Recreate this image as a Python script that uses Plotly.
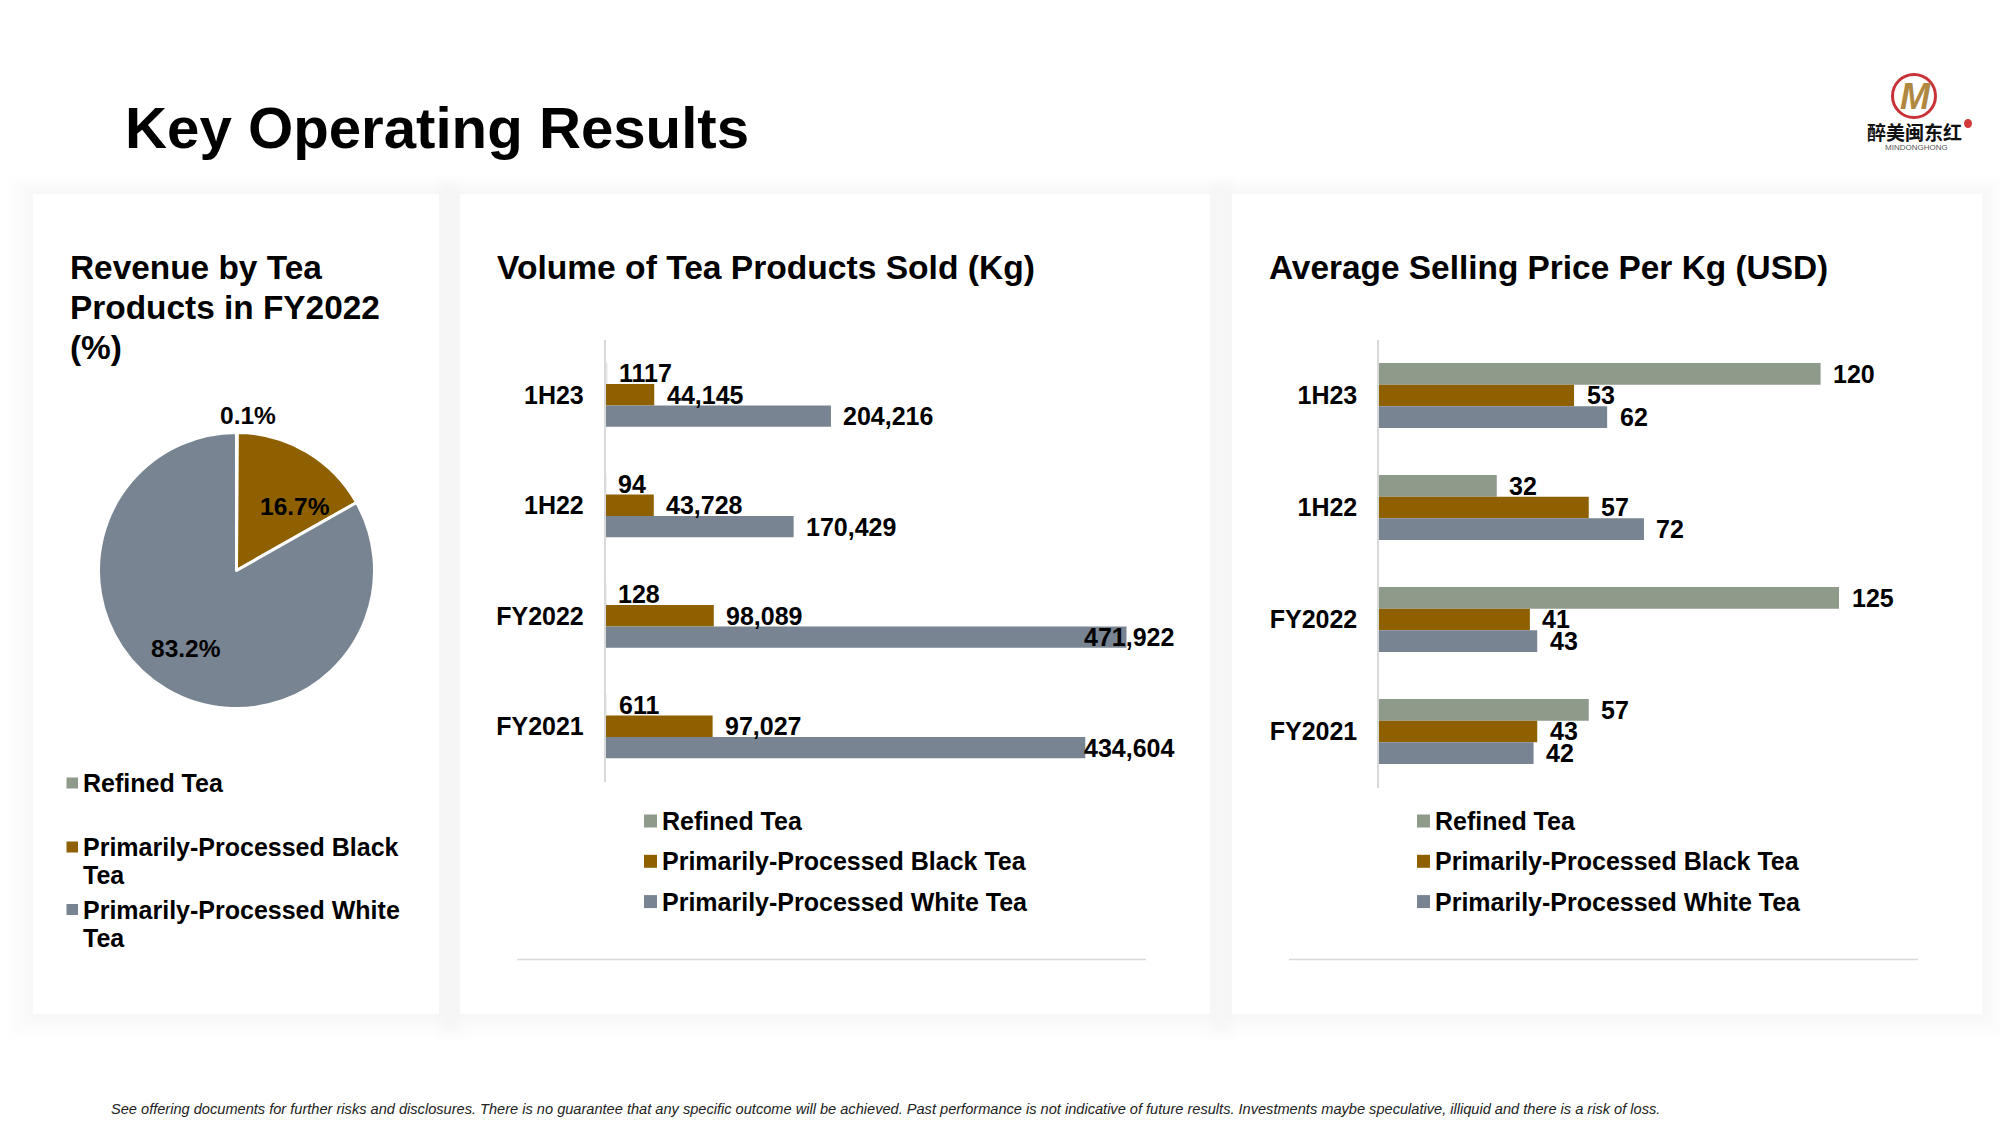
import plotly.graph_objects as go

W, H = 2000, 1125
FONT = "Liberation Sans"

# ---------- data ----------
series_names = ["Refined Tea", "Primarily-Processed Black Tea", "Primarily-Processed White Tea"]
series_colors = ["#8E9A8A", "#8F6000", "#788491"]
periods = ["1H23", "1H22", "FY2022", "FY2021"]

vol_refined = [1117, 94, 128, 611]
vol_black = [44145, 43728, 98089, 97027]
vol_white = [204216, 170429, 471922, 434604]
vol_labels = [
    ["1117", "94", "128", "611"],
    ["44,145", "43,728", "98,089", "97,027"],
    ["204,216", "170,429", "471,922", "434,604"],
]

asp_refined = [120, 32, 125, 57]
asp_black = [53, 57, 41, 43]
asp_white = [62, 72, 43, 42]

pie_values = [0.1, 16.7, 83.2]
pie_labels = ["0.1%", "16.7%", "83.2%"]

pie_legend_lines = [["Refined Tea"], ["Primarily-Processed Black", "Tea"], ["Primarily-Processed White", "Tea"]]

title_text = "Key Operating Results"
panel1_title = ["Revenue by Tea", "Products in FY2022", "(%)"]
panel2_title = "Volume of Tea Products Sold (Kg)"
panel3_title = "Average Selling Price Per Kg (USD)"
footnote = ("See offering documents for further risks and disclosures. There is no guarantee that any specific "
            "outcome will be achieved. Past performance is not indicative of future results. Investments maybe "
            "speculative, illiquid and there is a risk of loss.")

# ---------- helpers ----------
def fx(x): return x / W
def fy(y): return 1 - y / H

annotations, shapes = [], []

def text(x, y, s, size, bold=True, anchor="left", color="#000000", italic=False, vanchor="middle", family=FONT):
    t = s
    if bold: t = f"<b>{t}</b>"
    if italic: t = f"<i>{t}</i>"
    annotations.append(dict(xref="paper", yref="paper", x=fx(x), y=fy(y), text=t, showarrow=False,
                            xanchor=anchor, yanchor=vanchor, align=anchor,
                            font=dict(family=family, size=size, color=color), borderpad=0, borderwidth=0))

def rect(x0, y0, x1, y1, fill, opacity=1.0, layer="below", line=None, kind="rect"):
    shapes.append(dict(type=kind, xref="paper", yref="paper", x0=fx(x0), x1=fx(x1), y0=fy(y0), y1=fy(y1),
                       fillcolor=fill, opacity=opacity, layer=layer, line=line or dict(width=0)))

# panels with soft shadows
panels = [(33, 194, 439, 1014), (460, 194, 1210, 1014), (1232, 194, 1982, 1014)]
for (x0, y0, x1, y1) in panels:
    for d in (26, 22, 18, 14, 10, 6, 3):
        rect(x0 - d, y0 - d * 0.7, x1 + d, y1 + d, "#000000", 0.005)
for (x0, y0, x1, y1) in panels:
    rect(x0, y0, x1, y1, "#FFFFFF")

# titles
text(125, 128, title_text, 58.2)
for i, line in enumerate(panel1_title):
    text(70, 267 + i * 40, line, 33.4)
text(497, 267, panel2_title, 33.6)
text(1269, 267, panel3_title, 33.4)
text(111, 1109, footnote, 14.6, bold=False, italic=True, color="#222222")

# separators
for x0, x1 in ((517, 1146), (1289, 1918)):
    shapes.append(dict(type="line", xref="paper", yref="paper", x0=fx(x0), x1=fx(x1), y0=fy(959.5), y1=fy(959.5),
                       line=dict(color="#D9D9D9", width=1.5), layer="below"))

# legends
for lx, tx in ((644, 662), (1417, 1435)):
    for i, name in enumerate(series_names):
        cy = 821 + i * 40.3
        rect(lx, cy - 6.5, lx + 13, cy + 6.5, series_colors[i])
        text(tx, cy, name, 25)
pie_leg_y = [[783], [847, 875], [909.5, 937.5]]
for i, lines in enumerate(pie_legend_lines):
    cy0 = pie_leg_y[i][0]
    rect(66.5, cy0 - 5.5, 78, cy0 + 5.5, series_colors[i])
    for line, cy in zip(lines, pie_leg_y[i]):
        text(83, cy, line, 25)

# pie labels
for (x, y), lab in zip(((248, 415.5), (295, 506), (186, 648)), pie_labels):
    text(x, y, lab, 24.5, anchor="center")

# logo
cx, cy, r = 1914, 96, 21.5
rect(cx - r, cy - r, cx + r, cy + r, "rgba(0,0,0,0)", line=dict(color="#C8333A", width=3), kind="circle", layer="above")
text(cx + 1, cy, "M", 36, anchor="center", color="#B0883F", italic=True)
text(1914, 131, "醉美闽东红", 19, anchor="center", color="#111111", family="Noto Sans CJK SC")
text(1916, 148, "MINDONGHONG", 8, anchor="center", bold=False, color="#555555")
rect(1964, 119, 1972, 128, "#D03A3A", kind="circle", layer="above")

# ---------- figure ----------
fig = go.Figure()

PIE_R = 138
PIE_CX, PIE_CY = 236.5, 570.5
fig.add_trace(go.Pie(values=pie_values, labels=series_names, sort=False, direction="clockwise", rotation=0,
                     marker=dict(colors=series_colors, line=dict(color="#FFFFFF", width=3)),
                     textinfo="none", showlegend=False, hoverinfo="label+percent",
                     domain=dict(x=[fx(PIE_CX - PIE_R), fx(PIE_CX + PIE_R)], y=[fy(PIE_CY + PIE_R), fy(PIE_CY - PIE_R)])))

vol_series = [vol_refined, vol_black, vol_white]
asp_series = [asp_refined, asp_black, asp_white]
for i, name in enumerate(series_names):
    fig.add_trace(go.Bar(y=periods, x=vol_series[i], name=name, orientation="h", xaxis="x", yaxis="y",
                         marker=dict(color=series_colors[i], line=dict(width=0), opacity=0.25 if i == 0 else 1),
                         showlegend=False))
    fig.add_trace(go.Bar(y=periods, x=asp_series[i], name=name, orientation="h", xaxis="x2", yaxis="y2",
                         marker=dict(color=series_colors[i], line=dict(width=0)), showlegend=False))

# value labels attached to the data coordinates
VOL_RIGHT = 1176
LABEL_GAP = 10.5
for i in range(3):
    dy = (i - 1) * 21.3
    for j, p in enumerate(periods):
        v = vol_series[i][j]
        if v > 400000:
            annotations.append(dict(xref="paper", yref="y", x=fx(VOL_RIGHT), y=p, yshift=-dy, text=f"<b>{vol_labels[i][j]}</b>",
                                    showarrow=False, xanchor="right", yanchor="middle",
                                    font=dict(family=FONT, size=25, color="#000000")))
        else:
            annotations.append(dict(xref="x", yref="y", x=v, y=p, xshift=LABEL_GAP, yshift=-dy, text=f"<b>{vol_labels[i][j]}</b>",
                                    showarrow=False, xanchor="left", yanchor="middle",
                                    font=dict(family=FONT, size=25, color="#000000")))
        va = asp_series[i][j]
        annotations.append(dict(xref="x2", yref="y2", x=va, y=p, xshift=LABEL_GAP, yshift=-dy, text=f"<b>{va}</b>",
                                showarrow=False, xanchor="left", yanchor="middle",
                                font=dict(family=FONT, size=25, color="#000000")))

VOL_X0, VOL_X1 = 605.5, 1180.5
ASP_X0, ASP_X1 = 1379, 1940
vol_max = 471922 / 521 * (VOL_X1 - VOL_X0)
asp_max = 125 / 460 * (ASP_X1 - ASP_X0)

yax = dict(type="category", categoryorder="array", categoryarray=periods, autorange="reversed",
           showgrid=False, zeroline=False, showline=True, linecolor="#D9D9D9", linewidth=1.5,
           ticks="", ticklabelstandoff=15, tickfont=dict(family=FONT, size=25, color="#000000", weight="bold"))
xax = dict(showgrid=False, zeroline=False, showline=False, showticklabels=False, ticks="")

fig.update_layout(
    width=W, height=H, autosize=False,
    margin=dict(l=0, r=0, t=0, b=0, pad=0),
    paper_bgcolor="#FFFFFF", plot_bgcolor="rgba(0,0,0,0)",
    barmode="group", bargap=0.42, bargroupgap=0,
    font=dict(family=FONT),
    shapes=shapes, annotations=annotations,
    xaxis=dict(xax, domain=[fx(VOL_X0), fx(VOL_X1)], range=[0, vol_max], anchor="y"),
    yaxis=dict(yax, domain=[fy(781.5), fy(339.5)], anchor="x"),
    xaxis2=dict(xax, domain=[fx(ASP_X0), fx(ASP_X1)], range=[0, asp_max], anchor="y2"),
    yaxis2=dict(yax, domain=[fy(787.5), fy(339.5)], anchor="x2"),
)

fig.write_html("out.html", config=dict(displayModeBar=False),
               post_script="document.body.style.margin='0';document.body.style.overflow='hidden';")
